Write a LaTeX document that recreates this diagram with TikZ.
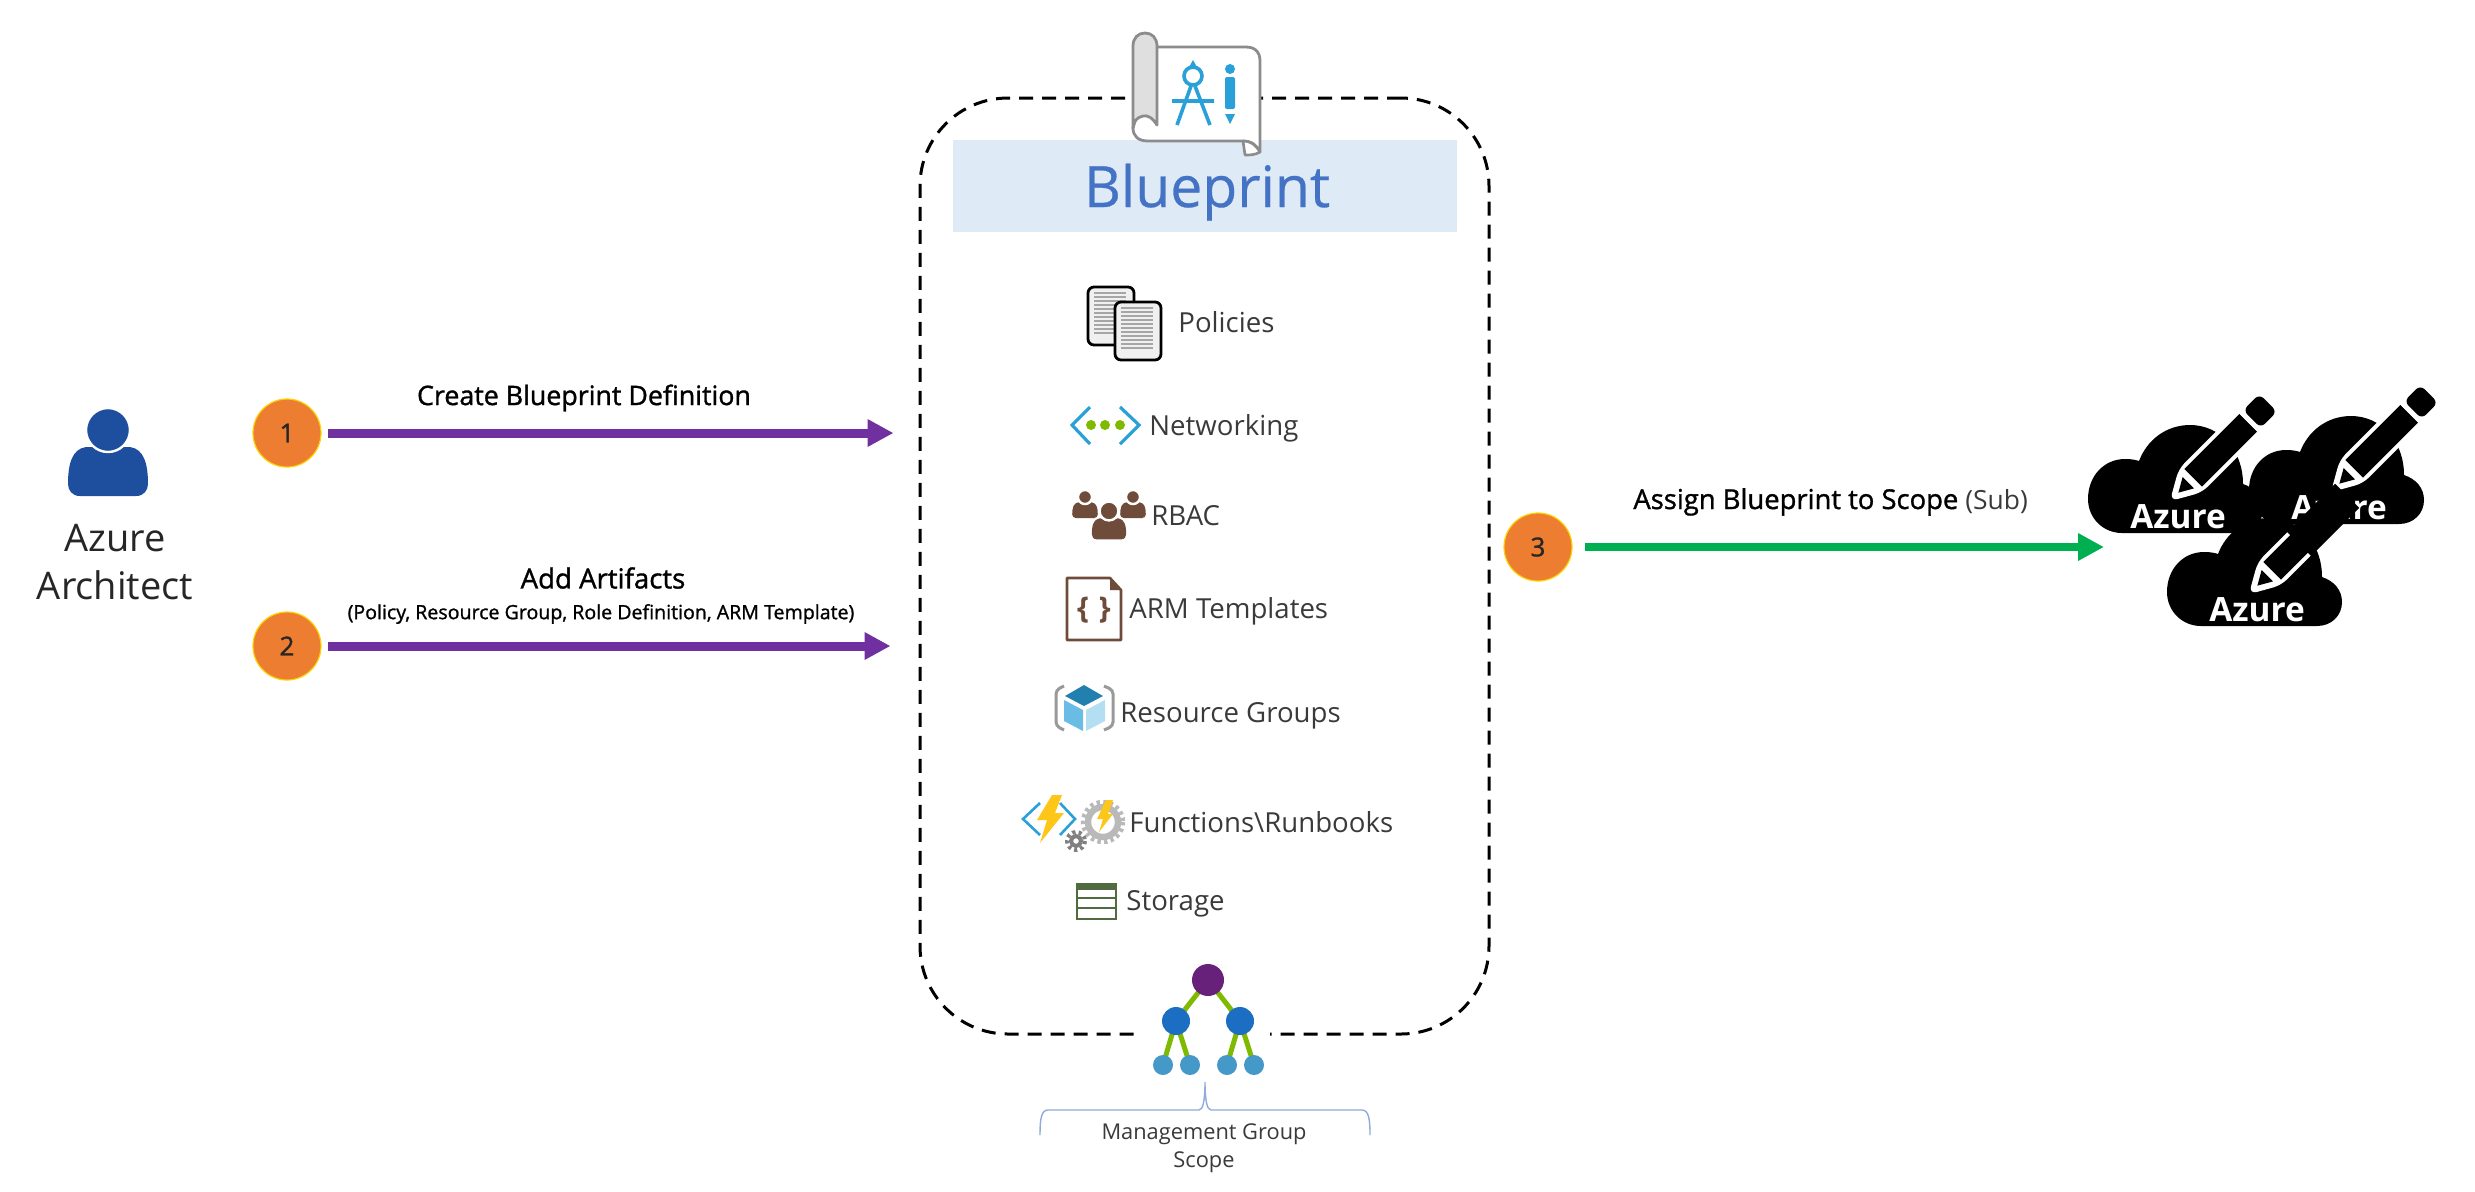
\documentclass[tikz,border=0pt]{standalone}
\usepackage{fontspec}
\setmainfont{Open Sans}
\newfontfamily\semib[FakeBold=1.2]{Open Sans}
\newfontfamily\titlef[FakeBold=0.5]{Open Sans}
\usetikzlibrary{arrows.meta}
\definecolor{lblgray}{HTML}{3A3A3A}
\definecolor{azblue}{HTML}{29A0D8}
\definecolor{azgreen}{HTML}{7FBA00}
\definecolor{brownr}{HTML}{6F4B3A}
\definecolor{persblue}{HTML}{1E4E9E}
\definecolor{orangec}{HTML}{ED7D31}
\definecolor{purplear}{HTML}{7030A0}
\definecolor{greenar}{HTML}{00B050}
\definecolor{bandc}{HTML}{DEEAF6}
\definecolor{titlec}{HTML}{4472C4}
\definecolor{storec}{HTML}{4F6B3F}
\definecolor{boltc}{HTML}{FFC61A}
\definecolor{mgpurple}{HTML}{68217A}
\definecolor{mgblue}{HTML}{1B6EC2}
\definecolor{mgsmall}{HTML}{4599C9}
\definecolor{bracec}{HTML}{8FAADC}
\definecolor{scrollc}{HTML}{8C8C8C}
\tikzset{
  lbl/.style={inner sep=0pt,text=lblgray,font=\fontsize{13.8}{17}\selectfont},
  steplabel/.style={inner sep=0pt,text=black,font=\semib\fontsize{13.4}{15}\selectfont},
  badge/.style={circle,fill=orangec,draw=yellow!70!orange,line width=.6pt,minimum size=34pt,inner sep=0pt,font=\semib\fontsize{13}{15}\selectfont,text=black!85},
  purplearrow/.style={draw=purplear,line width=4.5pt,-{Triangle[length=13pt,width=13pt]},shorten <=3pt,shorten >=12.5pt},
  greenarrow/.style={draw=greenar,line width=4pt,-{Triangle[length=13pt,width=13pt]},shorten <=6pt},
  cloudtext/.style={inner sep=0pt,text=white,font=\bfseries\fontsize{16.7}{20}\selectfont},
  dot/.style={circle,inner sep=0pt}
}
\newcommand{\personshape}[4]{% x,y,scale,colour
  \begin{scope}[shift={(#1,#2)},scale=#3]
    \fill[#4] (-28,66) .. controls (-36,66) and (-40,60) .. (-40,54) .. controls (-40,34) and (-36,19) .. (-22,17) -- (22,17) .. controls (36,19) and (40,34) .. (40,54) .. controls (40,60) and (36,66) .. (28,66) -- cycle;
    \fill[#4,draw=white,line width=1.2pt] (0,0) circle[radius=22];
  \end{scope}}
\newcommand{\cloudshape}[2]{% dx,dy
  \begin{scope}[shift={(#1,#2)}]
    \fill[black] (2088,499) .. controls (2088,476) and (2104,459) .. (2125,459)
      .. controls (2132,459) and (2136,460) .. (2139,461)
      .. controls (2147,440) and (2166,425) .. (2190,425)
      .. controls (2220,425) and (2243,450) .. (2243,484)
      .. controls (2255,488) and (2263,497) .. (2263,509)
      .. controls (2263,523) and (2252,533) .. (2238,533)
      -- (2122,533) .. controls (2103,533) and (2088,518) .. (2088,499) -- cycle;
    \begin{scope}[shift={(2172,499)},rotate=45]
      \fill[white,rounded corners=4pt] (-3,0) -- (26,-16.5) -- (112,-16.5) -- (112,16.5) -- (26,16.5) -- cycle;
      \fill[black] (30,-12.5) -- (108,-12.5) -- (108,12.5) -- (30,12.5) -- cycle;
      \fill[white] (108,-16) rectangle (113,16);
      \fill[black,rounded corners=3pt] (113,-12.5) rectangle (136,12.5);
      \fill[black] (9,0) -- (23,-8) -- (23,8) -- cycle;
    \end{scope}
  \end{scope}}
\newcommand{\gearshape}[5]{% x,y,radius,ring width,colour
  \draw[#5,line width=#4,dash pattern=on 1.6pt off 1.6pt] (#1,#2) circle[radius=#3+4];
  \draw[#5,line width=#4] (#1,#2) circle[radius=#3];}
\begin{document}
\begin{tikzpicture}[x=0.5pt,y=-0.5pt]
\useasboundingbox (0,0) rectangle (2475,1191);
% container
\node[draw=black,line width=1.5pt,dash pattern=on 7pt off 4.5pt,rounded corners=44pt,minimum width=284.5pt,minimum height=468pt,inner sep=0pt] (box) at (1204.5,566) {};
\fill[white] (1137,1020) rectangle (1270,1048);
\fill[bandc] (953,140) rectangle (1457,232);
\node[inner sep=0pt,anchor=base,text=titlec,font=\titlef\fontsize{28.5}{34}\selectfont] (title) at (1207,207) {Blueprint};
% scroll icon
\filldraw[fill=white,draw=scrollc,line width=1.4pt,line join=round] (1157,47) -- (1246,47) .. controls (1255,47) and (1260,52) .. (1260,61) -- (1260,152) .. controls (1255,143) and (1250,141) .. (1243,141) -- (1148,141) .. controls (1138,141) and (1133,136) .. (1133,128) -- cycle;
\filldraw[fill=white,draw=scrollc,line width=1.3pt,line join=round] (1243,141) .. controls (1250,141) and (1255,144) .. (1260,152) .. controls (1255,155) and (1250,155) .. (1245,155) -- cycle;
\filldraw[fill=gray!25,draw=scrollc,line width=1.4pt,line join=round] (1133,128) -- (1133,46) .. controls (1133,38) and (1138,33) .. (1145,33) .. controls (1152,33) and (1157,38) .. (1157,46) -- (1157,125) .. controls (1152,117) and (1147,115) .. (1143,116) .. controls (1137,117) and (1133,122) .. (1133,128) -- cycle;
\draw[azblue,line width=1.8pt] (1193,76) circle[radius=9];
\fill[azblue] (1193,60) -- (1198,69) -- (1188,69) -- cycle;
\draw[azblue,line width=1.8pt] (1191,86) -- (1177,125) (1195,86) -- (1210,125) (1172,101) -- (1214,101);
\fill[azblue] (1230,69) circle[radius=5];
\fill[azblue,rounded corners=1pt] (1225,77) rectangle (1235,109);
\fill[azblue] (1225,114) -- (1235,114) -- (1230,124) -- cycle;
% person and left text
\personshape{108}{430}{1}{persblue}
\node[inner sep=0pt,align=center,text=black!85,font=\fontsize{19}{24}\selectfont,anchor=center] (arch) at (115,562) {Azure\\Architect};
% badges and arrows
\node[badge] (b1) at (287,433) {1};
\node[badge] (b2) at (287,646) {2};
\node[badge] (b3) at (1538,547) {3};
\draw[purplearrow] (b1) -- (b1 -| box.west);
\draw[purplearrow,shorten >=14pt] (b2) -- (b2 -| box.west);
\coordinate (cloudin) at (2104,547);
\draw[greenarrow] (b3) -- (cloudin);
\node[steplabel] (l1) at (584,398) {Create Blueprint Definition};
\node[steplabel,font=\semib\fontsize{13.8}{15}\selectfont] (l2) at (603,578) {Add Artifacts};
\node[steplabel,font=\semib\fontsize{9.8}{12}\selectfont] (l2b) at (601,614) {(Policy, Resource Group, Role Definition, ARM Template)};
\node[steplabel,anchor=base west,font=\semib\fontsize{13.7}{15}\selectfont] (l3) at (1633,509) {Assign Blueprint to Scope {\normalfont\fontsize{13.2}{15}\selectfont\color{lblgray}(Sub)}};
% policies
\foreach \x/\y in {1088/287,1115/302}{
  \filldraw[fill=gray!12,draw=black,line width=1.4pt,rounded corners=3pt] (\x,\y) rectangle ++(46,58);
  \foreach \k in {6,10,...,46}{\draw[gray!70,line width=.6pt] (\x+6,\y+\k) -- (\x+38,\y+\k);}
}
\node[lbl,anchor=base west] (policies) at (1178,332) {Policies};
% networking
\draw[azblue,line width=1.6pt] (1090,407) -- (1072,425) -- (1090,444);
\draw[azblue,line width=1.6pt] (1120,407) -- (1139,425) -- (1120,444);
\foreach \x in {1091,1105,1120}{\fill[azgreen] (\x,425) circle[radius=5];}
\node[lbl,anchor=base west] (networking) at (1149,435) {Networking};
% RBAC
\personshape{1085}{497}{.32}{brownr}
\personshape{1133}{497}{.32}{brownr}
\personshape{1109}{511}{.43}{brownr}
\node[lbl,anchor=base west] (rbac) at (1151,525) {RBAC};
% ARM
\draw[brownr,line width=1.3pt,line join=round] (1067,578) -- (1110,578) -- (1121,590) -- (1121,640) -- (1067,640) -- cycle;
\fill[brownr] (1110,578) -- (1121,590) -- (1110,590) -- cycle;
\node[inner sep=0pt,text=brownr,font=\bfseries\fontsize{15}{18}\selectfont] (braces) at (1094,610) {\{\,\,\}};
\node[lbl,anchor=base west] (arm) at (1129,618) {ARM Templates};
% resource groups
\draw[gray!80,line width=1.5pt,rounded corners=2pt] (1064,686) -- (1056,690) -- (1056,726) -- (1064,730);
\draw[gray!80,line width=1.5pt,rounded corners=2pt] (1104,686) -- (1113,690) -- (1113,726) -- (1104,730);
\fill[azblue!80!black] (1084,685) -- (1103,696) -- (1084,706) -- (1065,696) -- cycle;
\fill[azblue!70] (1064,700) -- (1083,710) -- (1083,731) -- (1064,721) -- cycle;
\fill[azblue!35] (1105,700) -- (1086,710) -- (1086,731) -- (1105,721) -- cycle;
\node[lbl,anchor=base west] (rg) at (1120,722) {Resource Groups};
% functions
\draw[azblue,line width=1.3pt] (1040,803) -- (1023,819) -- (1040,835);
\draw[azblue,line width=1.3pt] (1060,803) -- (1075,819) -- (1060,835);
\fill[boltc] (1052,795) -- (1062,795) -- (1055,813) -- (1064,813) -- (1040,843) -- (1047,820) -- (1037,820) -- cycle;
\gearshape{1103}{822}{15}{3.2pt}{gray!55}
\fill[boltc] (1106,800) -- (1113,800) -- (1108,814) -- (1113,814) -- (1099,832) -- (1103,819) -- (1097,819) -- cycle;
\gearshape{1076}{841}{5}{2pt}{gray}
\node[lbl,anchor=base west] (func) at (1129,832) {Functions\textbackslash Runbooks};
% storage
\draw[storec,line width=1.4pt] (1077,884) rectangle (1116,919);
\fill[storec] (1076,883) rectangle (1117,890);
\draw[storec,line width=1.2pt] (1077,898) -- (1116,898) (1077,908) -- (1116,908);
\node[lbl,anchor=base west] (storage) at (1126,910) {Storage};
% management group
\draw[azgreen,line width=2.5pt] (1208,980) -- (1176,1021) -- (1163,1065) (1176,1021) -- (1190,1065)
  (1208,980) -- (1240,1021) -- (1227,1065) (1240,1021) -- (1254,1065);
\node[dot,fill=mgpurple,minimum size=16pt] (mg) at (1208,980) {};
\node[dot,fill=mgblue,minimum size=14pt] (m1) at (1176,1021) {};
\node[dot,fill=mgblue,minimum size=14pt] (m2) at (1240,1021) {};
\foreach \x/\n in {1163/a,1190/b,1227/c,1254/d}{\node[dot,fill=mgsmall,minimum size=10pt] (s\n) at (\x,1065) {};}
\draw[bracec,line width=.7pt] (1040,1135) .. controls (1040,1120) and (1041,1110) .. (1048,1110) -- (1199,1110) .. controls (1203,1110) and (1205,1100) .. (1205,1082) .. controls (1205,1100) and (1207,1110) .. (1211,1110) -- (1362,1110) .. controls (1369,1110) and (1370,1120) .. (1370,1135);
\node[lbl,align=center,font=\fontsize{10.9}{14}\selectfont] (mgtext) at (1204,1148) {Management Group\\Scope};
% clouds
\cloudshape{0}{0}
\node[cloudtext] (az1) at (2178,517) {Azure};
\cloudshape{161}{-9}
\node[cloudtext] (az2) at (2339,508) {Azure};
\cloudshape{79}{93}
\begin{scope}[shift={(2251,592)},rotate=45]
  \fill[black] (68,-17) rectangle (136,17);
\end{scope}
\node[cloudtext] (az3) at (2257,610) {Azure};
\end{tikzpicture}
\end{document}
